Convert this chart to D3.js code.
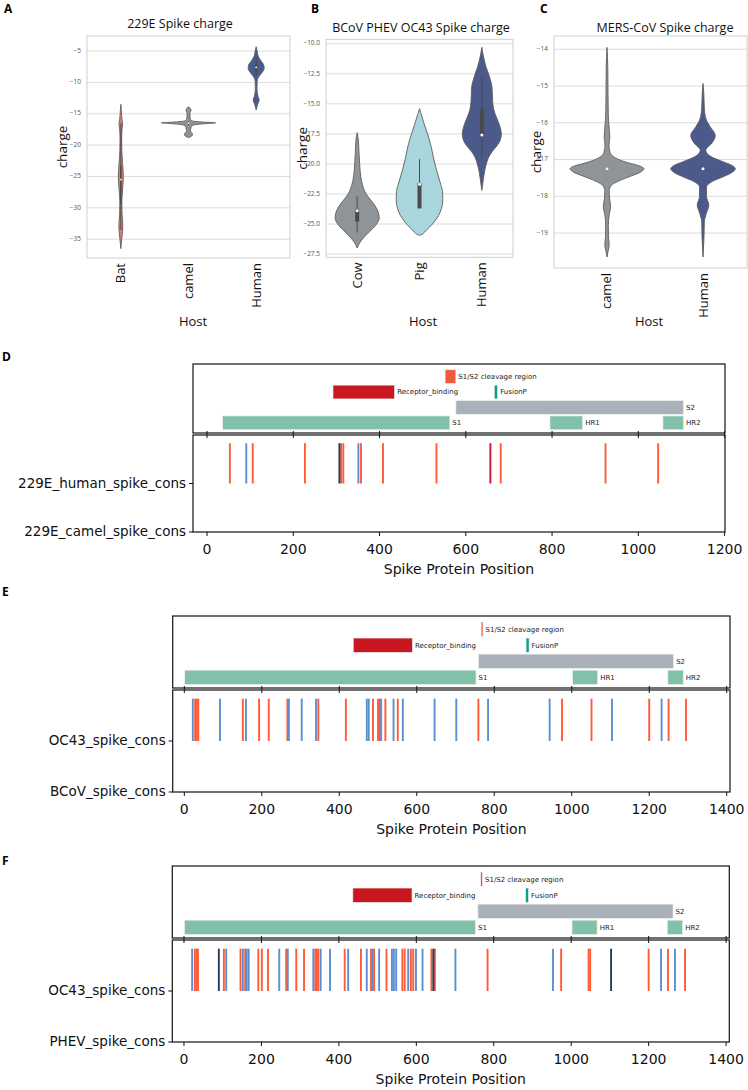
<!DOCTYPE html>
<html>
<head>
<meta charset="utf-8">
<script src="https://cdn.jsdelivr.net/npm/d3@7"></script>
<style>
  body { margin: 0; background: #fff; }
  svg { display: block; }
</style>
</head>
<body>
<svg id="fig" width="748" height="1090"></svg>
<script>
'use strict';

// ---------- violin panels: [charge, relative width] ----------
const hostsA = ['Bat', 'camel', 'Human'];
const batA = [[-13.5, 0], [-14.5, 0.5], [-16, 1.2], [-16.6, 1.8], [-17.5, 1.2], [-19, 0.8], [-21, 1],
  [-23, 1.8], [-25, 2.5], [-27, 1.8], [-29, 1], [-31, 1.2], [-33, 2], [-34.5, 1.2], [-36.5, 0]];
const camelA = [[-13.9, 0], [-14.2, 2], [-14.5, 2.5], [-14.8, 1.5], [-15.4, 1.5], [-15.9, 2], [-16.15, 4],
  [-16.3, 12], [-16.45, 27], [-16.6, 15], [-16.8, 5], [-17.2, 2.5], [-17.8, 2], [-18.2, 4], [-18.5, 3.5], [-18.8, 0]];
const humanA = [[-4.3, 0], [-5, 1], [-5.8, 2], [-6.5, 4.5], [-7.2, 7.5], [-7.7, 8], [-8.3, 6.5], [-9, 3],
  [-9.8, 1], [-11, 0.8], [-12.2, 1.8], [-12.8, 3], [-13.5, 1.5], [-14.4, 0]];
// [median, q1, q3, lower whisker, upper whisker]
const boxA = [[-25.5, -29.3, -23.3, -33.5, -16.5], [-16.5, -16.6, -16.4, -16.8, -16.2], [-7.6, -8.2, -6.9, -9.0, -6.0]];
const ticksA = [-35, -30, -25, -20, -15, -10, -5];

const hostsB = ['Cow', 'Pig', 'Human'];
const cowB = [[-17.4, 0], [-18, 1.2], [-19, 1.8], [-20, 2.5], [-21, 3.5], [-21.8, 5.5], [-22.5, 9], [-23, 13.5],
  [-23.5, 18], [-24, 21], [-24.5, 22], [-25, 19.5], [-25.5, 14], [-26, 8], [-26.5, 3], [-27, 0]];
const pigB = [[-15.4, 0], [-15.8, 1.5], [-16.5, 4], [-17.5, 8], [-18.5, 11.5], [-19.5, 14], [-20.5, 17], [-21.5, 20.5],
  [-22.3, 23], [-23, 23.3], [-23.7, 22], [-24.3, 19], [-25, 13], [-25.5, 7], [-25.85, 2.5], [-25.95, 0]];
const humanB = [[-10.3, 0], [-11.2, 2], [-12, 4.5], [-12.5, 6.7], [-13, 8.5], [-13.5, 10], [-14.2, 10.5], [-15, 11],
  [-15.5, 12], [-16, 14], [-16.5, 16.5], [-17, 18.5], [-17.5, 19.5], [-18, 18.5], [-18.5, 15], [-19, 10],
  [-19.5, 6.5], [-20, 4.5], [-20.5, 3], [-21, 2], [-21.6, 1], [-22.2, 0]];
const boxB = [[-23.9, -24.8, -23.8, -25.7, -22.7], [-21.7, -23.7, -21.6, -23.7, -19.6], [-17.6, -17.7, -15.4, -19.5, -12.7]];
const ticksB = [-27.5, -25, -22.5, -20, -17.5, -15, -12.5, -10];

const hostsC = ['camel', 'Human'];
const camelC = [[-13.95, 0], [-14.5, 0.8], [-15.2, 1], [-15.8, 1.3], [-16.15, 2.2], [-16.4, 2.8], [-16.6, 2],
  [-16.8, 3], [-16.95, 8], [-17.08, 20], [-17.17, 32], [-17.25, 37], [-17.35, 33], [-17.45, 24], [-17.58, 12],
  [-17.7, 4.5], [-17.85, 2.2], [-18.05, 2.5], [-18.28, 3.7], [-18.5, 2.2], [-18.8, 1.3], [-19.1, 1.5],
  [-19.33, 2.2], [-19.5, 1], [-19.65, 0]];
const humanC = [[-14.93, 0], [-15.2, 0.8], [-15.6, 1.3], [-15.9, 3], [-16.1, 7], [-16.35, 12.3], [-16.55, 9],
  [-16.75, 2.8], [-16.92, 8], [-17.06, 20], [-17.16, 29], [-17.25, 32.3], [-17.35, 29], [-17.47, 20], [-17.6, 9],
  [-17.75, 3.5], [-18.0, 3.5], [-18.24, 5.8], [-18.45, 3.5], [-18.7, 1.3], [-19.1, 1], [-19.65, 0]];
const boxC = [[-17.25, -17.28, -17.22, -17.3, -17.2], [-17.25, -17.28, -17.22, -17.3, -17.2]];
const ticksC = [-19, -18, -17, -16, -15, -14];

// ---------- spike maps: domains [name, start, end, row] ----------
const domains229E = [['S1', 36, 563, 1], ['HR1', 795, 871, 1], ['HR2', 1057, 1105, 1], ['S2', 577, 1105, 2],
  ['Receptor_binding', 292, 435, 3], ['FusionP', 666, 674, 3], ['S1/S2 cleavage region', 552, 577, 4]];
const domainsOC43 = [['S1', 1, 753, 1], ['HR1', 1002, 1067, 1], ['HR2', 1248, 1288, 1], ['S2', 759, 1263, 2],
  ['Receptor_binding', 436, 589, 3], ['FusionP', 882, 890, 3], ['S1/S2 cleavage region', 766, 771, 4]];

const ticks229E = [0, 200, 400, 600, 800, 1000, 1200];
const ticksOC43 = [0, 200, 400, 600, 800, 1000, 1200, 1400];

// substitution positions
const d229eOrange = [53, 106, 227, 311, 316, 357, 408, 532, 681, 924, 1046];
const d229eBlue = [91, 351];
const d229eNavy = [307];
const d229eCrimson = [657];

const eBcovOrange = [28, 32, 36, 151, 193, 218, 266, 346, 417, 487, 500, 508, 519, 551, 759, 975, 1051, 1200, 1250, 1295];
const eBcovBlue = [22, 92, 159, 270, 303, 340, 471, 476, 505, 540, 564, 646, 702, 784, 943, 1104, 1232];

const fPhevOrange = [28, 32, 36, 103, 146, 158, 192, 201, 217, 264, 290, 310, 339, 343, 347, 415, 457, 483, 491,
  523, 564, 570, 586, 592, 639, 648, 784, 974, 1045, 1049, 1200, 1250, 1294];
const fPhevBlue = [21, 109, 152, 162, 167, 246, 268, 334, 353, 377, 424, 472, 487, 504, 537, 542, 548, 579, 599,
  616, 701, 953, 1232, 1268];
const fPhevNavy = [90, 644, 1103];

const SANS = '"Open Sans", "Noto Sans", sans-serif';
const MPL = '"DejaVu Sans", sans-serif';

const DOMAIN_COLOR = {
  'S1': '#82c0aa', 'HR1': '#82c0aa', 'HR2': '#82c0aa', 'S2': '#aab1b9',
  'Receptor_binding': '#c9171f', 'FusionP': '#0e9e8e', 'S1/S2 cleavage region': '#ee5a3e'
};
const KIND_COLOR = { orange: '#ff5b36', blue: '#5b8fd1', navy: '#233a5a', crimson: '#c81638' };

const svg = d3.select('#fig');

function letter(txt, x, y) {
  svg.append('text')
    .attr('x', x).attr('y', y)
    .attr('dominant-baseline', 'middle')
    .attr('font-family', SANS).attr('font-weight', 700).attr('font-size', 12)
    .text(txt);
}

function violinPanel(cfg) {
  const g = svg.append('g');
  const x = d3.scaleLinear().domain(cfg.xlim).range([cfg.left, cfg.right]);
  const y = d3.scaleLinear().domain(cfg.ylim).range([cfg.bottom, cfg.top]);

  g.selectAll('line.grid')
    .data(cfg.ticks)
    .join('line')
    .attr('class', 'grid')
    .attr('x1', cfg.left).attr('x2', cfg.right)
    .attr('y1', d => y(d)).attr('y2', d => y(d))
    .attr('stroke', '#dcdcdc').attr('stroke-width', 1);

  g.selectAll('text.tick')
    .data(cfg.ticks)
    .join('text')
    .attr('class', 'tick')
    .attr('x', cfg.left - 6).attr('y', d => y(d))
    .attr('text-anchor', 'end').attr('dominant-baseline', 'middle')
    .attr('font-family', SANS).attr('font-size', 6.5).attr('fill', '#555')
    .text(d => d3.format(cfg.fmt)(d));

  g.append('rect')
    .attr('x', cfg.left).attr('y', cfg.top)
    .attr('width', cfg.right - cfg.left).attr('height', cfg.bottom - cfg.top)
    .attr('fill', 'none').attr('stroke', '#cfcfcf').attr('stroke-width', 1);

  const maxD = d3.max(cfg.profiles.flat(), p => p[1]);
  const w = d3.scaleLinear().domain([0, maxD]).range([0, cfg.widthFrac * (x(1) - x(0))]);

  cfg.profiles.forEach((prof, i) => {
    const cx = x(i);
    const area = d3.area()
      .y(p => y(p[0]))
      .x0(p => cx - w(p[1]))
      .x1(p => cx + w(p[1]))
      .curve(d3.curveMonotoneY);
    g.append('path')
      .attr('d', area(prof))
      .attr('fill', cfg.colors[i])
      .attr('stroke', '#5e5e5e').attr('stroke-width', 0.9);

    const [med, q1, q3, lo, hi] = cfg.boxes[i];
    g.append('line')
      .attr('x1', cx).attr('x2', cx).attr('y1', y(lo)).attr('y2', y(hi))
      .attr('stroke', '#4a4a4a').attr('stroke-width', 1);
    g.append('line')
      .attr('x1', cx).attr('x2', cx).attr('y1', y(q1)).attr('y2', y(q3))
      .attr('stroke', '#4a4a4a').attr('stroke-width', cfg.boxW[i]).attr('stroke-linecap', 'butt');
    g.append('circle')
      .attr('cx', cx).attr('cy', y(med)).attr('r', cfg.boxW[i] > 2 ? 1.5 : 0.9)
      .attr('fill', '#fff');

    g.append('text')
      .attr('transform', `translate(${cx + 1},${cfg.bottom + 5}) rotate(-90)`)
      .attr('text-anchor', 'end').attr('dominant-baseline', 'middle')
      .attr('font-family', SANS).attr('font-size', 13).attr('fill', '#111')
      .text(cfg.hosts[i]);
  });

  g.append('text')
    .attr('x', cfg.titleX).attr('y', cfg.titleY)
    .attr('text-anchor', 'middle').attr('dominant-baseline', 'middle')
    .attr('font-family', SANS).attr('font-size', 12.5).attr('fill', '#111')
    .text(cfg.title);

  g.append('text')
    .attr('transform', `translate(${cfg.chargeX},${(cfg.top + cfg.bottom) / 2}) rotate(-90)`)
    .attr('text-anchor', 'middle').attr('dominant-baseline', 'middle')
    .attr('font-family', SANS).attr('font-size', 13.5).attr('fill', '#111')
    .text('charge');

  g.append('text')
    .attr('x', cfg.hostX).attr('y', 323)
    .attr('text-anchor', 'middle').attr('dominant-baseline', 'middle')
    .attr('font-family', SANS).attr('font-size', 13).attr('fill', '#111')
    .text('Host');
}

function spikePanel(cfg) {
  const g = svg.append('g');
  const x = d3.scaleLinear().domain(cfg.xlim).range([cfg.left, cfg.right]);
  const rowY = d3.scaleLinear().domain([0.34, 4.82]).range([cfg.mid - 1, cfg.top]);
  const catY = d3.scaleLinear().domain([0, 2]).range([cfg.bottom, cfg.mid + 1]);
  const barH = rowY(0) - rowY(0.9);

  // domain map
  g.selectAll('rect.dom')
    .data(cfg.domains)
    .join('rect')
    .attr('class', 'dom')
    .attr('x', d => x(d[1]))
    .attr('width', d => x(d[2]) - x(d[1]))
    .attr('y', d => rowY(d[3]) - barH / 2)
    .attr('height', barH)
    .attr('fill', d => DOMAIN_COLOR[d[0]])
    .attr('stroke', '#eef2ee').attr('stroke-width', 0.7);

  g.selectAll('text.dom')
    .data(cfg.domains)
    .join('text')
    .attr('class', 'dom')
    .attr('x', d => x(d[2]) + 2.5)
    .attr('y', d => rowY(d[3]) + 0.5)
    .attr('dominant-baseline', 'middle')
    .attr('font-family', MPL).attr('font-size', 7).attr('fill', '#222')
    .text(d => d[0]);

  g.append('rect')
    .attr('x', cfg.left).attr('y', cfg.top)
    .attr('width', cfg.right - cfg.left).attr('height', cfg.mid - 1 - cfg.top)
    .attr('fill', 'none').attr('stroke', '#111').attr('stroke-width', 1.2);

  // substitutions
  const subs = [];
  for (const k of Object.keys(cfg.subs)) cfg.subs[k].forEach(p => subs.push([p, k]));
  g.selectAll('line.sub')
    .data(subs)
    .join('line')
    .attr('class', 'sub')
    .attr('x1', d => x(d[0])).attr('x2', d => x(d[0]))
    .attr('y1', catY(1)).attr('y2', catY(1.83))
    .attr('stroke', d => KIND_COLOR[d[1]]).attr('stroke-width', 1.9);

  g.append('rect')
    .attr('x', cfg.left).attr('y', cfg.mid + 1)
    .attr('width', cfg.right - cfg.left).attr('height', cfg.bottom - cfg.mid - 1)
    .attr('fill', 'none').attr('stroke', '#111').attr('stroke-width', 1.2);

  // x axis
  const xa = g.selectAll('g.xt').data(cfg.xticks).join('g').attr('class', 'xt');
  xa.append('line')
    .attr('x1', d => x(d)).attr('x2', d => x(d))
    .attr('y1', cfg.bottom).attr('y2', cfg.bottom + 4)
    .attr('stroke', '#111').attr('stroke-width', 1);
  xa.append('line')
    .attr('x1', d => x(d)).attr('x2', d => x(d))
    .attr('y1', cfg.mid - 3).attr('y2', cfg.mid + 4)
    .attr('stroke', '#111').attr('stroke-width', 1);
  xa.append('text')
    .attr('x', d => x(d)).attr('y', cfg.bottom + 18)
    .attr('text-anchor', 'middle').attr('dominant-baseline', 'middle')
    .attr('font-family', MPL).attr('font-size', 14).attr('fill', '#111')
    .text(d => d);

  g.append('text')
    .attr('x', (cfg.left + cfg.right) / 2).attr('y', cfg.bottom + 38)
    .attr('text-anchor', 'middle').attr('dominant-baseline', 'middle')
    .attr('font-family', MPL).attr('font-size', 14).attr('fill', '#111')
    .text('Spike Protein Position');

  // y axis
  const ya = g.selectAll('g.yt').data(cfg.cats).join('g').attr('class', 'yt');
  ya.append('line')
    .attr('x1', cfg.left - 4).attr('x2', cfg.left)
    .attr('y1', (d, i) => catY(i)).attr('y2', (d, i) => catY(i))
    .attr('stroke', '#111').attr('stroke-width', 1);
  ya.append('text')
    .attr('x', cfg.left - 7).attr('y', (d, i) => catY(i))
    .attr('text-anchor', 'end').attr('dominant-baseline', 'middle')
    .attr('font-family', MPL).attr('font-size', 13.5).attr('fill', '#111')
    .text(d => d);
}

// ---------- A, B, C ----------
letter('A', 4, 10);
violinPanel({
  left: 87, right: 290, top: 36, bottom: 258, xlim: [-0.5, 2.5], ylim: [-38.0, -2.6],
  hosts: hostsA, profiles: [batA, camelA, humanA], boxes: boxA, boxW: [1.4, 2, 2],
  colors: ['#e3806a', '#8e9398', '#4b5a8c'], ticks: ticksA, fmt: 'd', widthFrac: 0.4,
  title: '229E Spike charge', titleX: 180, titleY: 25, chargeX: 63, hostX: 193
});
letter('B', 311, 10);
violinPanel({
  left: 326, right: 513, top: 39.3, bottom: 257.3, xlim: [-0.5, 2.5], ylim: [-27.77, -9.63],
  hosts: hostsB, profiles: [cowB, pigB, humanB], boxes: boxB, boxW: [4, 4, 4],
  colors: ['#8f9499', '#a8d6dc', '#4b5a8b'], ticks: ticksB, fmt: '.1f', widthFrac: 0.374,
  title: 'BCoV PHEV OC43 Spike charge', titleX: 421, titleY: 29, chargeX: 303, hostX: 423
});
letter('C', 540, 10);
violinPanel({
  left: 554, right: 747, top: 36, bottom: 268, xlim: [-0.552, 1.458], ylim: [-19.95, -13.64],
  hosts: hostsC, profiles: [camelC, humanC], boxes: boxC, boxW: [3, 3],
  colors: ['#8f9499', '#4b5a8b'], ticks: ticksC, fmt: 'd', widthFrac: 0.385,
  title: 'MERS-CoV Spike charge', titleX: 665, titleY: 29, chargeX: 537, hostX: 649
});

// ---------- D, E, F ----------
letter('D', 2, 358);
spikePanel({
  left: 193, right: 725, top: 364, mid: 434, bottom: 532, xlim: [-32.5, 1201],
  domains: domains229E, xticks: ticks229E,
  cats: ['229E_camel_spike_cons', '229E_human_spike_cons'],
  subs: { orange: d229eOrange, blue: d229eBlue, navy: d229eNavy, crimson: d229eCrimson }
});
letter('E', 2, 593);
spikePanel({
  left: 172.7, right: 730, top: 616, mid: 689, bottom: 792, xlim: [-30, 1408.5],
  domains: domainsOC43, xticks: ticksOC43,
  cats: ['BCoV_spike_cons', 'OC43_spike_cons'],
  subs: { orange: eBcovOrange, blue: eBcovBlue }
});
letter('F', 2, 862);
spikePanel({
  left: 172.3, right: 729.3, top: 866, mid: 939, bottom: 1042, xlim: [-30.2, 1408.3],
  domains: domainsOC43, xticks: ticksOC43,
  cats: ['PHEV_spike_cons', 'OC43_spike_cons'],
  subs: { orange: fPhevOrange, blue: fPhevBlue, navy: fPhevNavy }
});
</script>
</body>
</html>
